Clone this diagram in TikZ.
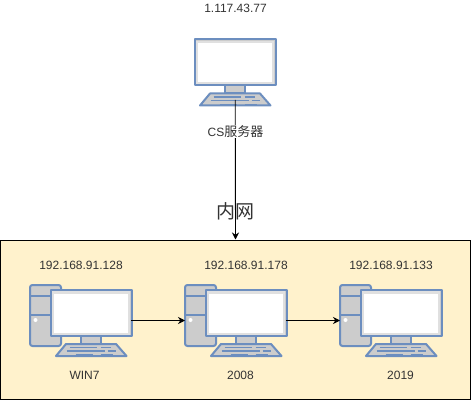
\documentclass[tikz,border=0pt]{standalone}
\usepackage{fontspec}
\setmainfont{Liberation Sans}
\newfontfamily\cjk{Noto Sans CJK SC}
\usetikzlibrary{arrows.meta}
\definecolor{pcblue}{HTML}{6C8EBF}
\definecolor{pcgrey}{HTML}{CCCCCC}
\definecolor{lanfill}{HTML}{FFF2CC}
\definecolor{txt}{HTML}{333333}
\tikzset{
  x=1pt,y=-1pt,
  label text/.style={font=\fontsize{12}{14}\selectfont,text=txt,inner sep=0pt},
  slot/.style={draw=pcblue,line width=1.7pt},
  part/.style={draw=pcblue,line width=2pt,fill=pcgrey,line join=round},
  anchorbox/.style={inner sep=0pt,outer sep=0pt,minimum width=#1},
  link/.style={draw=black,line width=0.9pt,-{Stealth[length=7pt,width=7pt]}},
  monitor/.pic={
    \path[part] (0,0) rectangle (81,46);
    \path[fill=white!88!black] (1.2,1.2) rectangle (79.8,44.8);
    \path[fill=white] (3.5,3.5) rectangle (77.5,42.5);
    \path[part] (30.5,46) rectangle (50.5,54);
    \path[part] (15.5,54) -- (65.5,54) -- (76,66) -- (5.5,66) -- cycle;
    \draw[slot] (19,57.5) -- (46,57.5) (50,57.5) -- (60,57.5);
    \draw[slot] (16,61) -- (54,61) (57,61) -- (65,61);
    \draw[slot] (25,65) -- (42,65) (50,65) -- (62,65);
  },
  tower/.pic={
    \path[part,rounded corners=2.5pt] (0,0) rectangle (31,61);
    \draw[draw=pcblue,line width=2pt] (0,11) -- (31,11) (0,30) -- (31,30);
    \fill[white] (5.5,35) circle (2pt);
  },
  pcsetup/.pic={
    \pic at (0,0) {tower};
    \pic at (20.5,5) {monitor};
  }
}
\begin{document}
\begin{tikzpicture}
\useasboundingbox (0,0) rectangle (471,401);
\node[draw=black,fill=lanfill,line width=1pt,inner sep=0pt,minimum width=470pt,minimum height=159.5pt] (lan) at (235.5,319.75) {};

\pic at (194.5,39.5) {monitor};
\pic at (30,285) {pcsetup};
\pic at (185,285) {pcsetup};
\pic at (340,285) {pcsetup};

\node[anchorbox=81.5pt,minimum height=60.5pt] (server) at (235.25,69.75) {};
\node[anchorbox=101pt,minimum height=71pt] (pca) at (80.5,320.5) {};
\node[anchorbox=101pt,minimum height=71pt] (pcb) at (235.5,320.5) {};
\node[anchorbox=101pt,minimum height=71pt] (pcc) at (390.5,320.5) {};

\draw[link] (server.south) -- (lan.north);
\draw[link] (pca.east) -- (pcb.west);
\draw[link] (pcb.east) -- (pcc.west);

\node[label text] (ipserver) at (235.5,8) {1.117.43.77};
\node[label text,fill=white,inner ysep=1pt,inner xsep=1pt] (nameserver) at (235.5,131.5) {CS{\fontsize{13}{15}\selectfont\cjk 服务器}};
\node[font=\fontsize{19}{21}\selectfont\cjk,text=txt,inner sep=0pt] (inner) at (235.5,211) {内网};
\node[label text] (ipa) at (81,265) {192.168.91.128};
\node[label text] (ipb) at (246,265) {192.168.91.178};
\node[label text] (ipc) at (391,265) {192.168.91.133};
\node[label text] (namea) at (84.5,375) {WIN7};
\node[label text] (nameb) at (240.5,375) {2008};
\node[label text] (namec) at (400.5,375) {2019};
\end{tikzpicture}
\end{document}
